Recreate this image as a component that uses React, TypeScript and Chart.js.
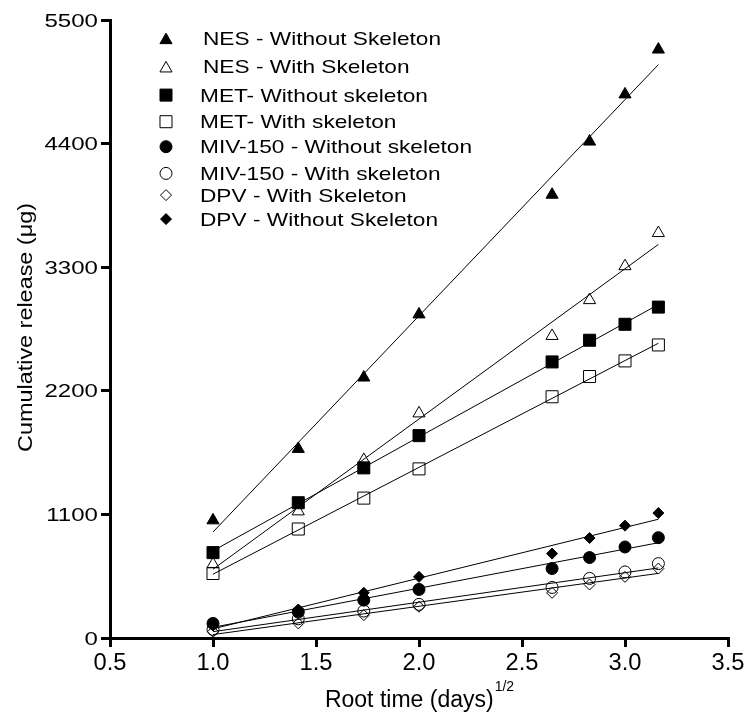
import React, { useEffect, useRef } from "react";
import { Chart, registerables } from "chart.js";

Chart.register(...registerables);

// ---- data ----
const rootTime = [1, 1.414, 1.732, 2, 2.646, 2.828, 3, 3.162];
const nesWithout = [1047, 1683, 2318, 2880, 3945, 4418, 4838, 5237];
const nesWith = [656, 1127, 1585, 1999, 2688, 3007, 3309, 3604];
const metWithout = [760, 1204, 1514, 1801, 2457, 2650, 2792, 2945];
const metWith = [574, 970, 1245, 1505, 2147, 2327, 2466, 2608];
const mivWithout = [130, 231, 337, 432, 618, 716, 810, 893];
const mivWith = [77, 171, 240, 299, 450, 530, 588, 662];
const dpvWith = [56, 130, 204, 278, 402, 476, 544, 618];
const dpvWithout = [112, 254, 402, 544, 751, 890, 1000, 1112];

const seriesNames = [
  "NES - Without Skeleton",
  "NES - With Skeleton",
  "MET- Without skeleton",
  "MET- With skeleton",
  "MIV-150 - Without skeleton",
  "MIV-150 - With skeleton",
  "DPV - With Skeleton",
  "DPV - Without Skeleton",
];
const seriesValues = [nesWithout, nesWith, metWithout, metWith, mivWithout, mivWith, dpvWith, dpvWithout];

const xTickValues = [0.5, 1, 1.5, 2, 2.5, 3, 3.5];
const xTickLabels = ["0.5", "1.0", "1.5", "2.0", "2.5", "3.0", "3.5"];
const yTickValues = [0, 1100, 2200, 3300, 4400, 5500];
const yTickLabels = ["0", "1100", "2200", "3300", "4400", "5500"];

const xTitle = "Root time (days)";
const xTitleSup = "1/2";
const yTitle = "Cumulative release (\u03bcg)";

// ---- styles ----
type Shape = "triangle" | "rect" | "circle" | "rectRot";
const markerStyles: { shape: Shape; filled: boolean; r: number }[] = [
  { shape: "triangle", filled: true, r: 7 },
  { shape: "triangle", filled: false, r: 7 },
  { shape: "rect", filled: true, r: 8.5 },
  { shape: "rect", filled: false, r: 8.5 },
  { shape: "circle", filled: true, r: 6 },
  { shape: "circle", filled: false, r: 6 },
  { shape: "rectRot", filled: false, r: 5.5 },
  { shape: "rectRot", filled: true, r: 5.5 },
];
const legendBaselines = [45, 73.3, 101.7, 128.3, 153.3, 180, 201.7, 225.7];
const legendTextX = [203, 203, 200, 200, 200, 200, 200, 200];
const legendMarkerX = 166;

const FONT = '"Liberation Sans", Arial, Helvetica, sans-serif';

function fitLine(xs: number[], ys: number[]) {
  const n = xs.length;
  const mx = xs.reduce((a, b) => a + b, 0) / n;
  const my = ys.reduce((a, b) => a + b, 0) / n;
  let sxy = 0;
  let sxx = 0;
  for (let i = 0; i < n; i++) {
    sxy += (xs[i] - mx) * (ys[i] - my);
    sxx += (xs[i] - mx) * (xs[i] - mx);
  }
  const b = sxy / sxx;
  const a = my - b * mx;
  const x0 = xs[0];
  const x1 = xs[n - 1];
  return [
    { x: x0, y: a + b * x0 },
    { x: x1, y: a + b * x1 },
  ];
}

function txt(
  ctx: CanvasRenderingContext2D,
  s: string,
  x: number,
  y: number,
  size: number,
  sx: number,
  align: CanvasTextAlign
) {
  ctx.save();
  ctx.translate(x, y);
  ctx.scale(sx, 1);
  ctx.font = `${size}px ${FONT}`;
  ctx.textAlign = align;
  ctx.textBaseline = "alphabetic";
  ctx.fillStyle = "#000";
  ctx.fillText(s, 0, 0);
  ctx.restore();
}

function drawMarker(ctx: CanvasRenderingContext2D, shape: Shape, x: number, y: number, r: number, filled: boolean) {
  ctx.save();
  ctx.beginPath();
  if (shape === "triangle") {
    const w = Math.sin((2 * Math.PI) / 3) * r;
    ctx.moveTo(x, y - r);
    ctx.lineTo(x + w, y + r / 2);
    ctx.lineTo(x - w, y + r / 2);
    ctx.closePath();
  } else if (shape === "rect") {
    const s = Math.SQRT1_2 * r;
    ctx.rect(x - s, y - s, 2 * s, 2 * s);
  } else if (shape === "circle") {
    ctx.arc(x, y, r, 0, Math.PI * 2);
  } else {
    ctx.moveTo(x - r, y);
    ctx.lineTo(x, y - r);
    ctx.lineTo(x + r, y);
    ctx.lineTo(x, y + r);
    ctx.closePath();
  }
  ctx.lineWidth = 1;
  ctx.strokeStyle = "#000";
  if (filled) {
    ctx.fillStyle = "#000";
    ctx.fill();
  }
  ctx.stroke();
  ctx.restore();
}

const textPlugin = {
  id: "customText",
  afterDraw(chart: any) {
    const ctx: CanvasRenderingContext2D = chart.ctx;
    const { left, right, bottom } = chart.chartArea;
    const xs = chart.scales.x;
    const ys = chart.scales.y;

    yTickValues.forEach((v, i) => {
      const py = ys.getPixelForValue(v);
      txt(ctx, yTickLabels[i], left - 12, py + 6.6, 18.5, 1.3, "right");
    });
    xTickValues.forEach((v, i) => {
      const px = xs.getPixelForValue(v);
      txt(ctx, xTickLabels[i], px, bottom + 32, 23, 1.03, "center");
    });

    // x title with superscript
    ctx.save();
    ctx.font = `23px ${FONT}`;
    const w1 = ctx.measureText(xTitle).width;
    ctx.font = `14px ${FONT}`;
    const w2 = ctx.measureText(xTitleSup).width;
    ctx.restore();
    const cx = (left + right) / 2;
    const startX = cx - (w1 + w2) / 2;
    txt(ctx, xTitle, startX, bottom + 69, 23, 1, "left");
    txt(ctx, xTitleSup, startX + w1 + 1, bottom + 53, 14, 1, "left");

    // y title
    ctx.save();
    ctx.translate(32, 327.5);
    ctx.rotate(-Math.PI / 2);
    ctx.scale(1.2, 1);
    ctx.font = `19.5px ${FONT}`;
    ctx.textAlign = "center";
    ctx.textBaseline = "alphabetic";
    ctx.fillStyle = "#000";
    ctx.fillText(yTitle, 0, 0);
    ctx.restore();

    // legend
    seriesNames.forEach((name, i) => {
      const st = markerStyles[i];
      const base = legendBaselines[i];
      let my = base - 6.6;
      if (st.shape === "triangle") my += st.r / 4;
      drawMarker(ctx, st.shape, legendMarkerX, my, st.r, st.filled);
      txt(ctx, name, legendTextX[i], base, 18.5, 1.225, "left");
    });
  },
};

export default function App() {
  const ref = useRef<HTMLCanvasElement | null>(null);

  useEffect(() => {
    document.body.style.margin = "0";
    const canvas = ref.current;
    if (!canvas) return;

    const pointSets = seriesValues.map((vals, i) => ({
      label: seriesNames[i],
      data: vals.map((y, j) => ({ x: rootTime[j], y })),
      showLine: false,
      pointStyle: markerStyles[i].shape,
      pointRadius: markerStyles[i].r,
      pointHoverRadius: markerStyles[i].r,
      pointBorderWidth: 1,
      pointBorderColor: "#000",
      pointBackgroundColor: markerStyles[i].filled ? "#000" : "rgba(0,0,0,0)",
      order: 0,
    }));
    const lineSets = seriesValues.map((vals, i) => ({
      label: seriesNames[i] + " fit",
      data: fitLine(rootTime, vals),
      showLine: true,
      borderColor: "#000",
      borderWidth: 1,
      pointRadius: 0,
      fill: false,
      order: 1,
    }));

    const chart = new Chart(canvas, {
      type: "scatter",
      data: { datasets: [...pointSets, ...lineSets] as any },
      options: {
        animation: false,
        responsive: false,
        devicePixelRatio: 1,
        layout: { padding: { left: 101, right: 18, top: 20, bottom: 66 } },
        plugins: {
          legend: { display: false },
          tooltip: { enabled: false },
        },
        scales: {
          x: {
            type: "linear",
            min: 0.5,
            max: 3.5,
            ticks: { display: false, stepSize: 0.5 },
            grid: { drawOnChartArea: false, drawTicks: true, tickLength: 9, color: "#000", lineWidth: 3 },
            border: { display: true, color: "#000", width: 3 },
          },
          y: {
            type: "linear",
            min: 0,
            max: 5500,
            ticks: { display: false, stepSize: 1100 },
            grid: { drawOnChartArea: false, drawTicks: true, tickLength: 9, color: "#000", lineWidth: 3 },
            border: { display: true, color: "#000", width: 3 },
          },
        },
      },
      plugins: [textPlugin],
    });
    return () => chart.destroy();
  }, []);

  return (
    <div style={{ width: 746, height: 713, background: "#fff" }}>
      <canvas ref={ref} width={746} height={713} style={{ display: "block" }} />
    </div>
  );
}
